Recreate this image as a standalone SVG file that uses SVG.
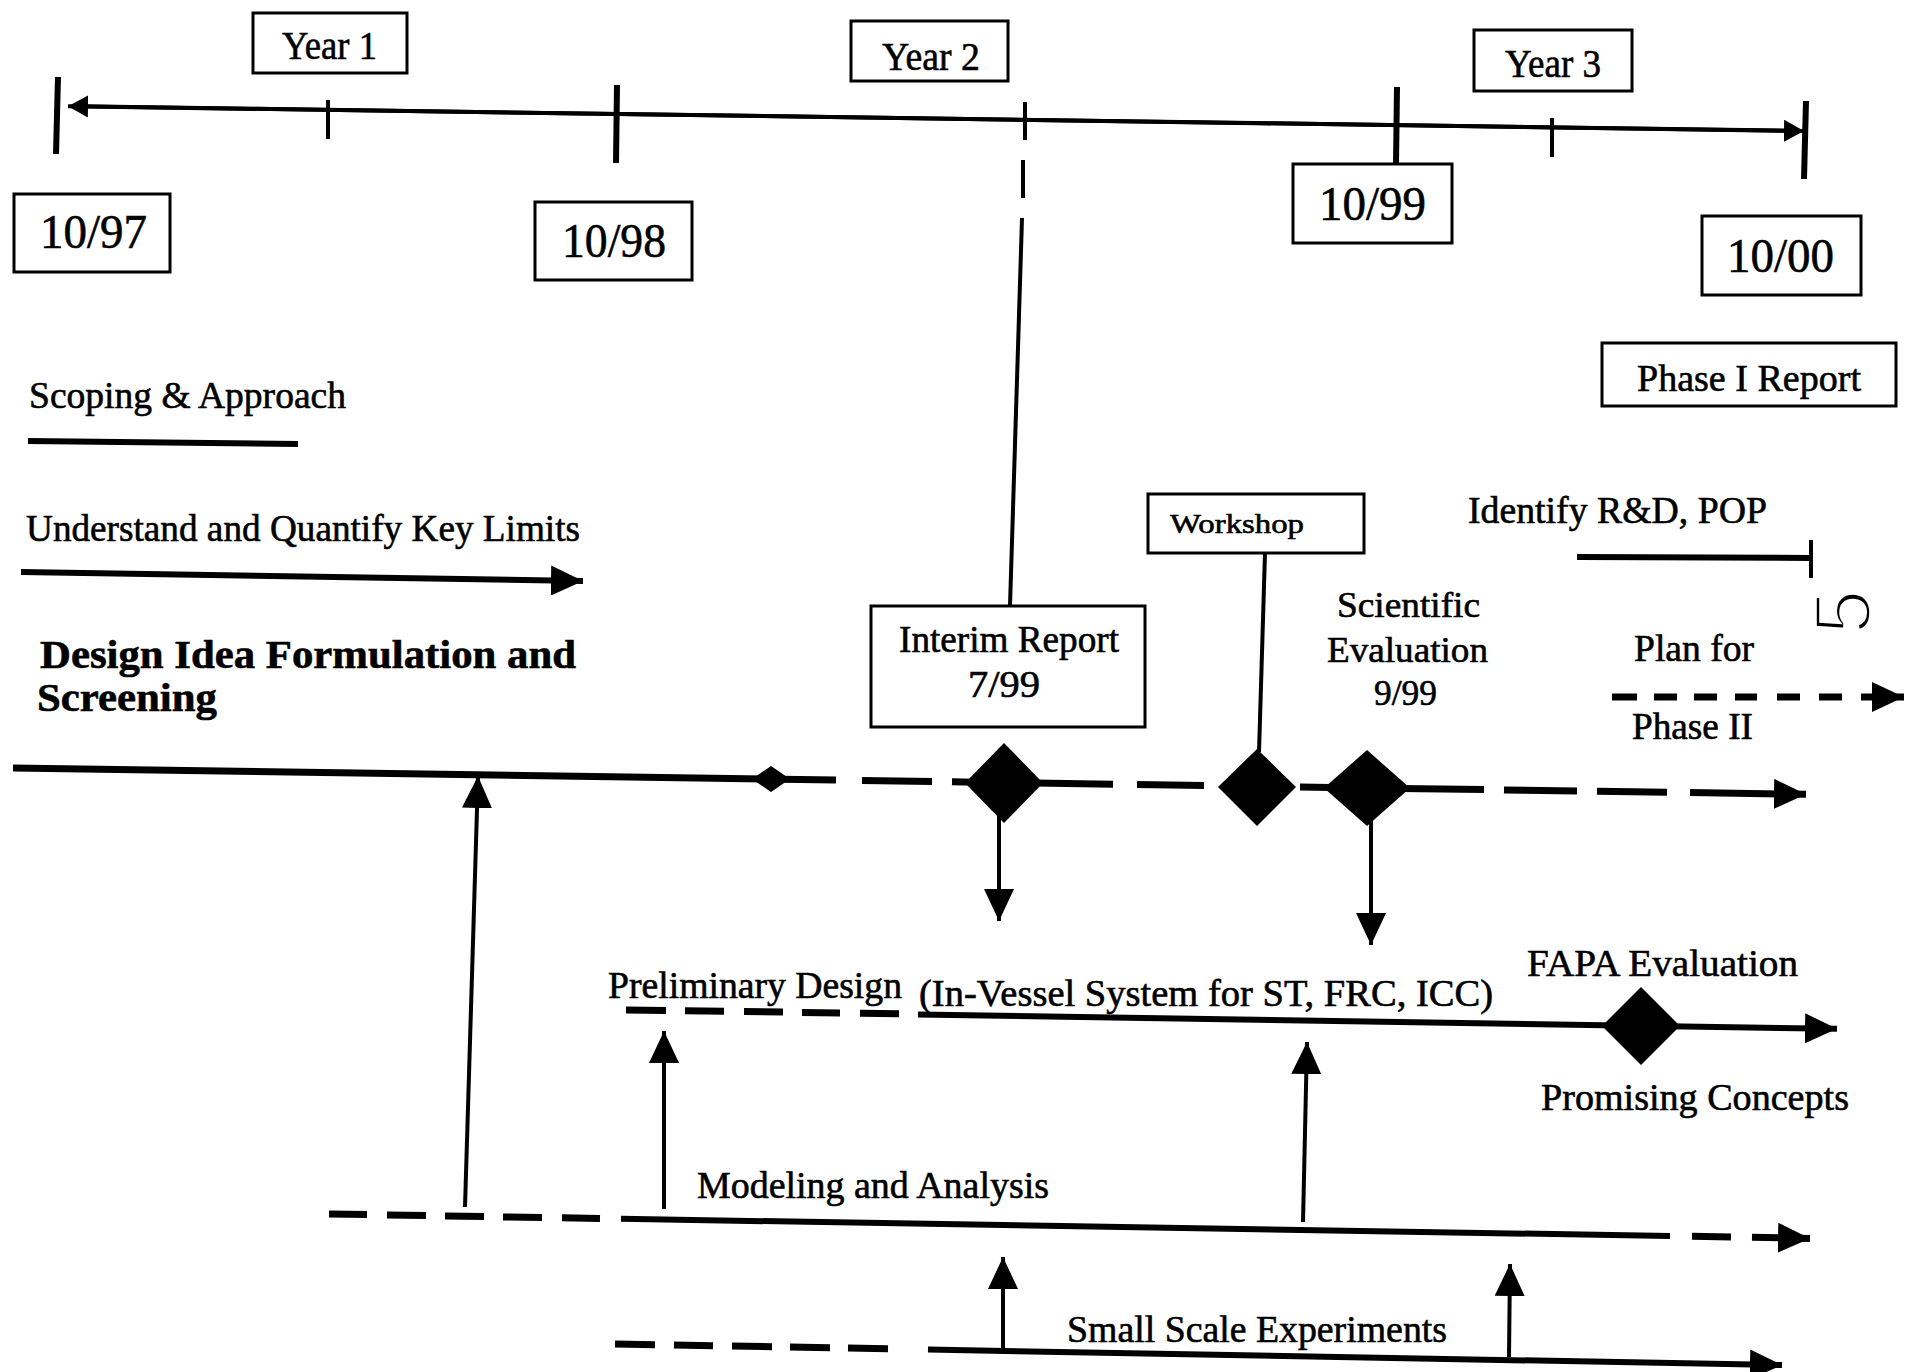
<svg xmlns="http://www.w3.org/2000/svg" width="1906" height="1372" viewBox="0 0 1906 1372">
<style>
.t{font-family:"Liberation Serif","Times New Roman",serif;fill:#000;stroke:#000;stroke-width:0.6}
.b{font-weight:bold}
.box{fill:#fff;stroke:#000;stroke-width:3}
.ln{stroke:#000;fill:none;stroke-linecap:butt}
.w4{stroke-width:4}
.w6{stroke-width:6}
.w7{stroke-width:7}
.dia{fill:#000}
</style>
<defs>
<marker id="ah" viewBox="0 0 32 30" refX="32" refY="15" markerWidth="32" markerHeight="30" orient="auto" markerUnits="userSpaceOnUse"><path d="M0,0 L32,15 L0,30 z" fill="#000"/></marker>
<marker id="ahs" viewBox="0 0 20 22" refX="20" refY="11" markerWidth="20" markerHeight="22" orient="auto" markerUnits="userSpaceOnUse"><path d="M0,0 L20,11 L0,22 z" fill="#000"/></marker>
</defs>
<rect width="1906" height="1372" fill="#fff"/>

<g id="connectors">
  <!-- timeline -->
  <line class="ln w4" x1="1794" y1="130.8" x2="68" y2="106.2" marker-end="url(#ahs)"/>
  <line class="ln w4" x1="80" y1="106.3" x2="1804" y2="131" marker-end="url(#ahs)"/>
  <line class="ln w6" x1="58" y1="77" x2="56" y2="154"/>
  <line class="ln w4" x1="328" y1="100" x2="328" y2="139"/>
  <line class="ln w6" x1="617" y1="85" x2="616" y2="163"/>
  <line class="ln w4" x1="1025" y1="102" x2="1025" y2="140"/>
  <line class="ln w4" x1="1023" y1="160" x2="1023" y2="198"/>
  <line class="ln w4" x1="1022" y1="218" x2="1010" y2="606"/>
  <line class="ln w6" x1="1397" y1="87" x2="1396" y2="164"/>
  <line class="ln w4" x1="1552" y1="118" x2="1552" y2="157"/>
  <line class="ln w6" x1="1806" y1="101" x2="1804" y2="179"/>

  <!-- scoping / understand -->
  <line class="ln w6" x1="28" y1="441" x2="298" y2="444"/>
  <line class="ln w6" x1="21" y1="572" x2="583" y2="581" marker-end="url(#ah)"/>

  <!-- main design line -->
  <line class="ln w7" x1="13" y1="768" x2="836" y2="780"/>
  <line class="ln w7" x1="862" y1="780.5" x2="932" y2="781.5"/>
  <line class="ln w7" x1="952" y1="781.8" x2="975" y2="782.2"/>
  <line class="ln w7" x1="1035" y1="783" x2="1113" y2="784.2"/>
  <line class="ln w7" x1="1137" y1="784.5" x2="1204" y2="785.5"/>
  <line class="ln w7" x1="1300" y1="787" x2="1330" y2="787.4"/>
  <line class="ln w7" x1="1400" y1="788.4" x2="1484" y2="789.6"/>
  <line class="ln w7" x1="1504" y1="789.9" x2="1577" y2="791"/>
  <line class="ln w7" x1="1597" y1="791.3" x2="1667" y2="792.3"/>
  <line class="ln w7" x1="1690" y1="792.6" x2="1806" y2="794.3" marker-end="url(#ah)"/>

  <!-- workshop stem -->
  <line class="ln w4" x1="1265" y1="553" x2="1259" y2="752"/>

  <!-- down arrows -->
  <line class="ln w4" x1="999" y1="815" x2="999" y2="921" marker-end="url(#ah)"/>
  <line class="ln w4" x1="1371" y1="818" x2="1371" y2="945" marker-end="url(#ah)"/>

  <!-- identify R&D -->
  <line class="ln w6" x1="1577" y1="557" x2="1811" y2="558"/>
  <line class="ln w4" x1="1811" y1="540" x2="1811" y2="578"/>

  <!-- plan for phase II dashed -->
  <path class="ln w7" d="M1612,697 H1637 M1654,697 H1677 M1694,697 H1717 M1735,697 H1757 M1777,697 H1800 M1819,697 H1842"/>
  <line class="ln w7" x1="1861" y1="697" x2="1904" y2="697" marker-end="url(#ah)"/>

  <!-- preliminary design line -->
  <path class="ln w7" d="M626,1010 L666,1010.5 M685,1010.8 L724,1011.3 M744,1011.6 L783,1012.1 M802,1012.4 L840,1012.9 M860,1013.2 L899,1013.7"/>
  <line class="ln w6" x1="918" y1="1014.5" x2="1837" y2="1028.8" marker-end="url(#ah)"/>

  <!-- modeling and analysis line -->
  <path class="ln w7" d="M329,1214 L367,1214.6 M387,1215 L426,1215.6 M445,1215.9 L484,1216.6 M503,1216.9 L542,1217.5 M562,1217.8 L600,1218.5"/>
  <line class="ln w6" x1="621" y1="1218.8" x2="1670" y2="1236"/>
  <line class="ln w7" x1="1692" y1="1236.3" x2="1731" y2="1236.9"/>
  <line class="ln w7" x1="1752" y1="1237.2" x2="1810" y2="1238.4" marker-end="url(#ah)"/>

  <!-- small scale experiments line -->
  <path class="ln w7" d="M615,1344 L655,1344.7 M674,1345 L713,1345.7 M732,1346 L772,1346.7 M790,1347 L830,1347.7 M848,1348 L888,1348.7"/>
  <line class="ln w6" x1="928" y1="1349.6" x2="1782" y2="1365" marker-end="url(#ah)"/>

  <!-- up arrows -->
  <line class="ln w4" x1="465" y1="1207" x2="478" y2="776" marker-end="url(#ah)"/>
  <line class="ln w4" x1="664" y1="1209" x2="664" y2="1031" marker-end="url(#ah)"/>
  <line class="ln w4" x1="1303" y1="1222" x2="1307" y2="1042" marker-end="url(#ah)"/>
  <line class="ln w4" x1="1003" y1="1351" x2="1003" y2="1257" marker-end="url(#ah)"/>
  <line class="ln w4" x1="1509" y1="1357" x2="1510" y2="1264" marker-end="url(#ah)"/>
</g>

<g id="year1"><rect class="box" x="253" y="13" width="154" height="60"/><text class="t" x="282" y="59" font-size="41" textLength="95" lengthAdjust="spacingAndGlyphs">Year 1</text></g>
<g id="year2"><rect class="box" x="851" y="21" width="157" height="60"/><text class="t" x="882" y="70" font-size="41" textLength="98" lengthAdjust="spacingAndGlyphs">Year 2</text></g>
<g id="year3"><rect class="box" x="1474" y="30" width="158" height="61"/><text class="t" x="1505" y="77" font-size="41" textLength="96" lengthAdjust="spacingAndGlyphs">Year 3</text></g>
<g id="d1097"><rect class="box" x="14" y="194" width="156" height="78"/><text class="t" x="40" y="248" font-size="49" textLength="107" lengthAdjust="spacingAndGlyphs">10/97</text></g>
<g id="d1098"><rect class="box" x="535" y="202" width="157" height="78"/><text class="t" x="562" y="257" font-size="49" textLength="104" lengthAdjust="spacingAndGlyphs">10/98</text></g>
<g id="d1099"><rect class="box" x="1293" y="164" width="159" height="79"/><text class="t" x="1319" y="220" font-size="49" textLength="107" lengthAdjust="spacingAndGlyphs">10/99</text></g>
<g id="d1000"><rect class="box" x="1702" y="216" width="159" height="79"/><text class="t" x="1727" y="272" font-size="49" textLength="107" lengthAdjust="spacingAndGlyphs">10/00</text></g>
<g id="phase1"><rect class="box" x="1602" y="343" width="294" height="63"/><text class="t" x="1637" y="391" font-size="38" textLength="224" lengthAdjust="spacingAndGlyphs">Phase I Report</text></g>

<g id="scoping"><text class="t" x="29" y="408" font-size="37" textLength="317" lengthAdjust="spacingAndGlyphs">Scoping &amp; Approach</text></g>
<g id="understand"><text class="t" x="26" y="541" font-size="37" textLength="554" lengthAdjust="spacingAndGlyphs">Understand and Quantify Key Limits</text></g>
<g id="design"><text class="t b" x="40" y="668" font-size="41" textLength="536" lengthAdjust="spacingAndGlyphs">Design Idea Formulation and</text><text class="t b" x="37" y="711" font-size="41" textLength="180" lengthAdjust="spacingAndGlyphs">Screening</text></g>

<g id="interim"><rect class="box" x="871" y="606" width="274" height="121"/><text class="t" x="899" y="652" font-size="37" textLength="220" lengthAdjust="spacingAndGlyphs" stroke-width="0">Interim Report</text><text class="t" x="968" y="697" font-size="37" textLength="72" lengthAdjust="spacingAndGlyphs" stroke-width="0">7/99</text></g>
<g id="workshop"><rect class="box" x="1148" y="494" width="216" height="59"/><text class="t" x="1170" y="533" font-size="28" textLength="134" lengthAdjust="spacingAndGlyphs" stroke-width="0">Workshop</text></g>
<g id="scientific"><text class="t" x="1337" y="617" font-size="36" textLength="143" lengthAdjust="spacingAndGlyphs" stroke-width="0">Scientific</text><text class="t" x="1327" y="662" font-size="36" textLength="161" lengthAdjust="spacingAndGlyphs" stroke-width="0">Evaluation</text><text class="t" x="1374" y="705" font-size="36" textLength="63" lengthAdjust="spacingAndGlyphs" stroke-width="0">9/99</text></g>
<g id="identify"><text class="t" x="1468" y="523" font-size="37" textLength="299" lengthAdjust="spacingAndGlyphs">Identify R&amp;D, POP</text></g>
<g id="pagenum"><text x="1870" y="612" font-family="Liberation Sans, Arial, sans-serif" font-size="80" text-anchor="middle" fill="#000" stroke="#fff" stroke-width="3.5" transform="rotate(-90 1870 612)">5</text></g>
<g id="plan"><text class="t" x="1634" y="661" font-size="37" textLength="120" lengthAdjust="spacingAndGlyphs">Plan for</text><text class="t" x="1632" y="739" font-size="37" textLength="121" lengthAdjust="spacingAndGlyphs">Phase II</text></g>

<g id="m-small"><polygon class="dia" points="752,779 771,766 790,779 771,792"/></g>
<g id="m-interim"><polygon class="dia" points="965,783 1004,743 1043,783 1004,823"/></g>
<g id="m-workshop"><polygon class="dia" points="1218,787 1257,749 1296,787 1257,826"/></g>
<g id="m-scientific"><polygon class="dia" points="1324,788 1367,750 1410,788 1367,826"/></g>

<g id="prelim"><text class="t" x="608" y="998" font-size="37" textLength="294" lengthAdjust="spacingAndGlyphs">Preliminary Design</text><text class="t" x="919" y="1006" font-size="37" textLength="574" lengthAdjust="spacingAndGlyphs">(In-Vessel System for ST, FRC, ICC)</text></g>
<g id="fapa"><text class="t" x="1527" y="976" font-size="37" textLength="271" lengthAdjust="spacingAndGlyphs">FAPA Evaluation</text><polygon class="dia" points="1602,1026 1641,987 1680,1026 1641,1065"/><text class="t" x="1541" y="1110" font-size="37" textLength="308" lengthAdjust="spacingAndGlyphs">Promising Concepts</text></g>
<g id="modeling"><text class="t" x="697" y="1198" font-size="37" textLength="352" lengthAdjust="spacingAndGlyphs">Modeling and Analysis</text></g>
<g id="smallscale"><text class="t" x="1067" y="1342" font-size="37" textLength="380" lengthAdjust="spacingAndGlyphs">Small Scale Experiments</text></g>
</svg>
